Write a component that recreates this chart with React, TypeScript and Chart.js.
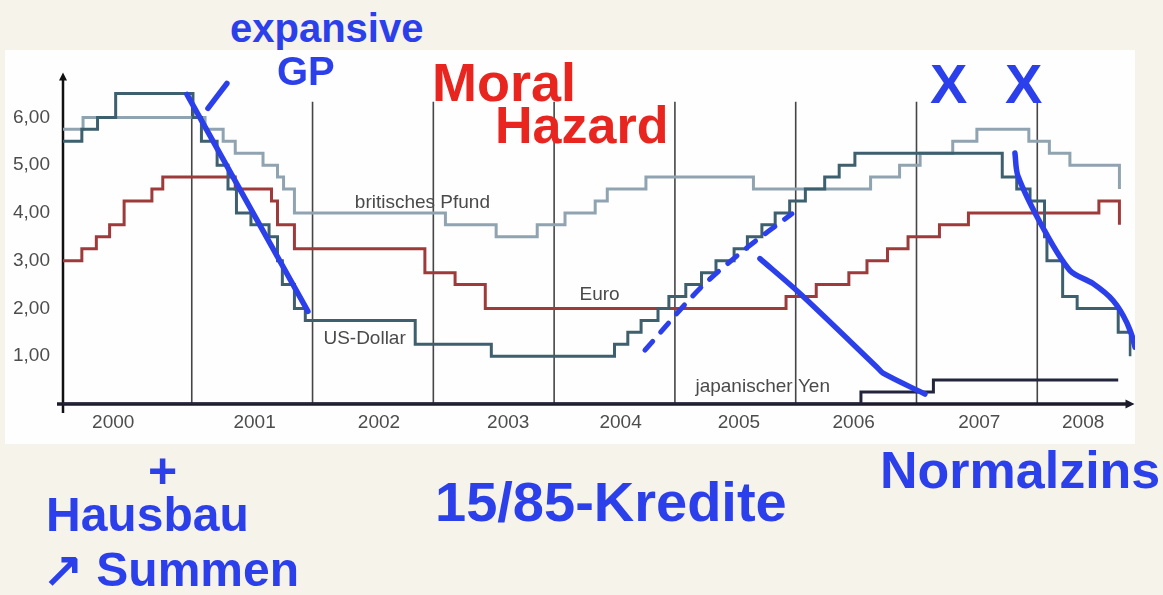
import React, { useEffect, useRef } from 'react';
import { Chart, registerables } from 'chart.js';

Chart.register(...registerables);

// ---- Leitzinsen (Prozent), Stufen: ab Datum gilt der Satz ----
const usDates = [1999.934, 2000.09, 2000.22, 2000.37, 2001.01, 2001.08, 2001.21, 2001.3, 2001.37, 2001.49, 2001.64, 2001.71, 2001.75, 2001.85, 2001.94, 2002.85, 2003.48, 2004.5, 2004.61, 2004.72, 2004.86, 2004.95, 2005.09, 2005.22, 2005.34, 2005.49, 2005.6, 2005.72, 2005.83, 2005.95, 2006.08, 2006.24, 2006.36, 2006.49, 2007.71, 2007.83, 2007.94, 2008.06, 2008.08, 2008.21, 2008.33, 2008.67, 2008.77];
const usRates = [5.5, 5.75, 6.0, 6.5, 6.0, 5.5, 5.0, 4.5, 4.0, 3.75, 3.5, 3.0, 2.5, 2.0, 1.75, 1.25, 1.0, 1.25, 1.5, 1.75, 2.0, 2.25, 2.5, 2.75, 3.0, 3.25, 3.5, 3.75, 4.0, 4.25, 4.5, 4.75, 5.0, 5.25, 4.75, 4.5, 4.25, 3.5, 3.0, 2.25, 2.0, 1.5, 1.0];

const euroDates = [1999.934, 2000.09, 2000.21, 2000.32, 2000.44, 2000.67, 2000.76, 2001.36, 2001.66, 2001.71, 2001.85, 2002.93, 2003.18, 2003.43, 2005.92, 2006.17, 2006.44, 2006.59, 2006.76, 2006.93, 2007.19, 2007.43, 2008.51, 2008.68];
const euroRates = [3.0, 3.25, 3.5, 3.75, 4.25, 4.5, 4.75, 4.5, 4.25, 3.75, 3.25, 2.75, 2.5, 2.0, 2.25, 2.5, 2.75, 3.0, 3.25, 3.5, 3.75, 4.0, 4.25, 3.75];

const gbpDates = [1999.934, 2000.1, 2001.11, 2001.26, 2001.36, 2001.59, 2001.71, 2001.76, 2001.85, 2003.1, 2003.52, 2003.86, 2004.09, 2004.34, 2004.44, 2004.76, 2005.65, 2006.62, 2006.86, 2007.03, 2007.3, 2007.5, 2007.93, 2008.1, 2008.27, 2008.68];
const gbpRates = [5.75, 6.0, 5.75, 5.5, 5.25, 5.0, 4.75, 4.5, 4.0, 3.75, 3.5, 3.75, 4.0, 4.25, 4.5, 4.75, 4.5, 4.75, 5.0, 5.25, 5.5, 5.75, 5.5, 5.25, 5.0, 4.5];

const yenDates = [1999.934, 2006.54, 2007.14, 2008.67];
const yenRates = [0, 0.25, 0.5, 0.5];

// ---- Achsen ----
const yearBoundaries = [2001, 2002, 2003, 2004, 2005, 2006, 2007, 2008];
const xTickValues = [2000.35, 2001.52, 2002.55, 2003.62, 2004.55, 2005.53, 2006.48, 2007.52, 2008.38];
const xTickLabels = ['2000', '2001', '2002', '2003', '2004', '2005', '2006', '2007', '2008'];
const yTickValues = [1, 2, 3, 4, 5, 6];
const yTickLabels = ['1,00', '2,00', '3,00', '4,00', '5,00', '6,00'];

// ---- Handschriftliche Striche (Jahr / Prozent) ----
const strokeTickX = [2001.134, 2001.291];
const strokeTickY = [6.19, 6.71];
const stroke2001X = [2000.96, 2001.962];
const stroke2001Y = [6.48, 1.94];
const strokeRiseX = [2004.752, 2005.207, 2005.597, 2005.969];
const strokeRiseY = [1.126, 2.418, 3.273, 3.982];
const strokeFallX = [2005.704, 2006.035, 2006.673, 2006.723, 2007.07];
const strokeFallY = [3.044, 2.314, 0.771, 0.646, 0.208];
const stroke2008X = [2007.815, 2007.84, 2008.047, 2008.271, 2008.461, 2008.627, 2008.744, 2008.809, 2008.834];
const stroke2008Y = [5.253, 4.774, 3.69, 2.793, 2.522, 2.168, 1.689, 1.188, 0.563];

const seriesNotes = [
  { text: 'britisches Pfund', x: 2002.35, y: 4.21 },
  { text: 'Euro', x: 2004.21, y: 2.29 },
  { text: 'US-Dollar', x: 2002.09, y: 1.375 },
  { text: 'japanischer Yen', x: 2005.17, y: 0.354 },
];

const BLUE = '#2b3feb';
const RED = '#e8261f';

const handNotes = [
  { text: 'expansive', left: 230, top: 8, size: 40, color: BLUE },
  { text: 'GP', left: 277, top: 51, size: 40, color: BLUE },
  { text: 'Moral', left: 432, top: 55, size: 54, color: RED },
  { text: 'Hazard', left: 495, top: 99, size: 52, color: RED },
  { text: 'X', left: 930, top: 56, size: 56, color: BLUE },
  { text: 'X', left: 1005, top: 56, size: 56, color: BLUE },
  { text: '+', left: 148, top: 446, size: 50, color: BLUE },
  { text: 'Hausbau', left: 46, top: 491, size: 48, color: BLUE },
  { text: '↗ Summen', left: 43, top: 546, size: 48, color: BLUE },
  { text: '15/85-Kredite', left: 435, top: 474, size: 56, color: BLUE },
  { text: 'Normalzins', left: 880, top: 444, size: 52, color: BLUE },
];

const pts = (xs: number[], ys: number[]) => xs.map((x, i) => ({ x, y: ys[i] }));

const FONT = "'Liberation Sans', Arial, sans-serif";

export default function App() {
  const canvasRef = useRef<HTMLCanvasElement | null>(null);

  useEffect(() => {
    const canvas = canvasRef.current;
    if (!canvas) return;

    const axesPlugin = {
      id: 'axesAndGrid',
      beforeDatasetsDraw(chart: any) {
        const { ctx, chartArea, scales } = chart;
        const x = scales.x;
        const y = scales.y;
        const y0 = y.getPixelForValue(0);
        const gridTop = y.getPixelForValue(6.33);
        ctx.save();
        ctx.strokeStyle = '#454545';
        ctx.lineWidth = 1.6;
        yearBoundaries.forEach((yr) => {
          const px = x.getPixelForValue(yr);
          ctx.beginPath();
          ctx.moveTo(px, gridTop);
          ctx.lineTo(px, y0);
          ctx.stroke();
        });
        // y axis
        const ax = chartArea.left;
        ctx.strokeStyle = '#111111';
        ctx.fillStyle = '#111111';
        ctx.lineWidth = 2.5;
        ctx.beginPath();
        ctx.moveTo(ax, chartArea.top + 4);
        ctx.lineTo(ax, y0 + 9);
        ctx.stroke();
        ctx.beginPath();
        ctx.moveTo(ax, chartArea.top - 2);
        ctx.lineTo(ax - 4, chartArea.top + 6);
        ctx.lineTo(ax + 4, chartArea.top + 6);
        ctx.closePath();
        ctx.fill();
        // x axis
        ctx.strokeStyle = '#1b1b2c';
        ctx.fillStyle = '#1b1b2c';
        ctx.lineWidth = 3.5;
        ctx.beginPath();
        ctx.moveTo(ax - 6, y0);
        ctx.lineTo(chartArea.right - 3, y0);
        ctx.stroke();
        ctx.beginPath();
        ctx.moveTo(chartArea.right + 3, y0);
        ctx.lineTo(chartArea.right - 6, y0 - 4.5);
        ctx.lineTo(chartArea.right - 6, y0 + 4.5);
        ctx.closePath();
        ctx.fill();
        ctx.restore();
      },
      afterDatasetsDraw(chart: any) {
        const { ctx, scales } = chart;
        ctx.save();
        ctx.font = `19px ${FONT}`;
        ctx.fillStyle = '#4a4a4a';
        ctx.textAlign = 'left';
        ctx.textBaseline = 'middle';
        seriesNotes.forEach((n) => {
          ctx.fillText(n.text, scales.x.getPixelForValue(n.x), scales.y.getPixelForValue(n.y));
        });
        ctx.restore();
      },
    };

    const stroke = {
      borderColor: BLUE,
      borderWidth: 5.5,
      pointRadius: 0,
      borderCapStyle: 'round',
      borderJoinStyle: 'round',
      clip: false,
      tension: 0.3,
      fill: false,
    };

    const series = {
      stepped: true,
      borderWidth: 3,
      pointRadius: 0,
      fill: false,
    };

    const chart = new Chart(canvas, {
      type: 'line',
      data: {
        datasets: [
          { ...stroke, label: 's1', data: pts(strokeTickX, strokeTickY) },
          { ...stroke, label: 's2', data: pts(stroke2001X, stroke2001Y), tension: 0 },
          { ...stroke, label: 's3', data: pts(strokeRiseX, strokeRiseY), borderWidth: 5, borderDash: [12, 12] },
          { ...stroke, label: 's4', data: pts(strokeFallX, strokeFallY) },
          { ...stroke, label: 's5', data: pts(stroke2008X, stroke2008Y) },
          { ...series, label: 'US-Dollar', data: pts(usDates, usRates), borderColor: '#3d5f6e' },
          { ...series, label: 'japanischer Yen', data: pts(yenDates, yenRates), borderColor: '#23253d' },
          { ...series, label: 'Euro', data: pts(euroDates, euroRates), borderColor: '#9e3a3a' },
          { ...series, label: 'britisches Pfund', data: pts(gbpDates, gbpRates), borderColor: '#8fa3b0' },
        ] as any,
      },
      options: {
        animation: false,
        responsive: false,
        devicePixelRatio: 1,
        layout: { padding: { top: 23, right: 3.5, left: 0, bottom: 0 } },
        plugins: {
          legend: { display: false },
          tooltip: { enabled: false },
        },
        scales: {
          x: {
            type: 'linear',
            min: 1999.934,
            max: 2008.78,
            grid: { display: false, drawTicks: false },
            border: { display: false },
            afterBuildTicks: (scale: any) => {
              scale.ticks = xTickValues.map((v) => ({ value: v }));
            },
            afterFit: (scale: any) => {
              scale.height = 40;
            },
            ticks: {
              autoSkip: false,
              maxRotation: 0,
              padding: 7,
              color: '#4d4d4d',
              font: { family: FONT, size: 19 },
              callback: (_v: any, i: number) => xTickLabels[i],
            },
          },
          y: {
            type: 'linear',
            min: 0,
            max: 6.9,
            grid: { display: false, drawTicks: false },
            border: { display: false },
            afterBuildTicks: (scale: any) => {
              scale.ticks = yTickValues.map((v) => ({ value: v }));
            },
            afterFit: (scale: any) => {
              scale.width = 58;
            },
            ticks: {
              padding: 13,
              color: '#4d4d4d',
              font: { family: FONT, size: 19 },
              callback: (_v: any, i: number) => yTickLabels[i],
            },
          },
        },
      } as any,
      plugins: [axesPlugin],
    });

    return () => chart.destroy();
  }, []);

  return (
    <div
      style={{
        position: 'fixed',
        left: 0,
        top: 0,
        width: 1163,
        height: 595,
        background: '#f6f3ea',
        overflow: 'hidden',
      }}
    >
      <div
        style={{
          position: 'absolute',
          left: 5,
          top: 50,
          width: 1130,
          height: 394,
          background: '#fefefe',
        }}
      >
        <canvas ref={canvasRef} width={1130} height={394} style={{ display: 'block' }} />
      </div>
      {handNotes.map((n, i) => (
        <div
          key={i}
          style={{
            position: 'absolute',
            left: n.left,
            top: n.top,
            fontFamily: FONT,
            fontWeight: 700,
            fontSize: n.size,
            lineHeight: 1,
            color: n.color,
            whiteSpace: 'nowrap',
            pointerEvents: 'none',
          }}
        >
          {n.text}
        </div>
      ))}
    </div>
  );
}
